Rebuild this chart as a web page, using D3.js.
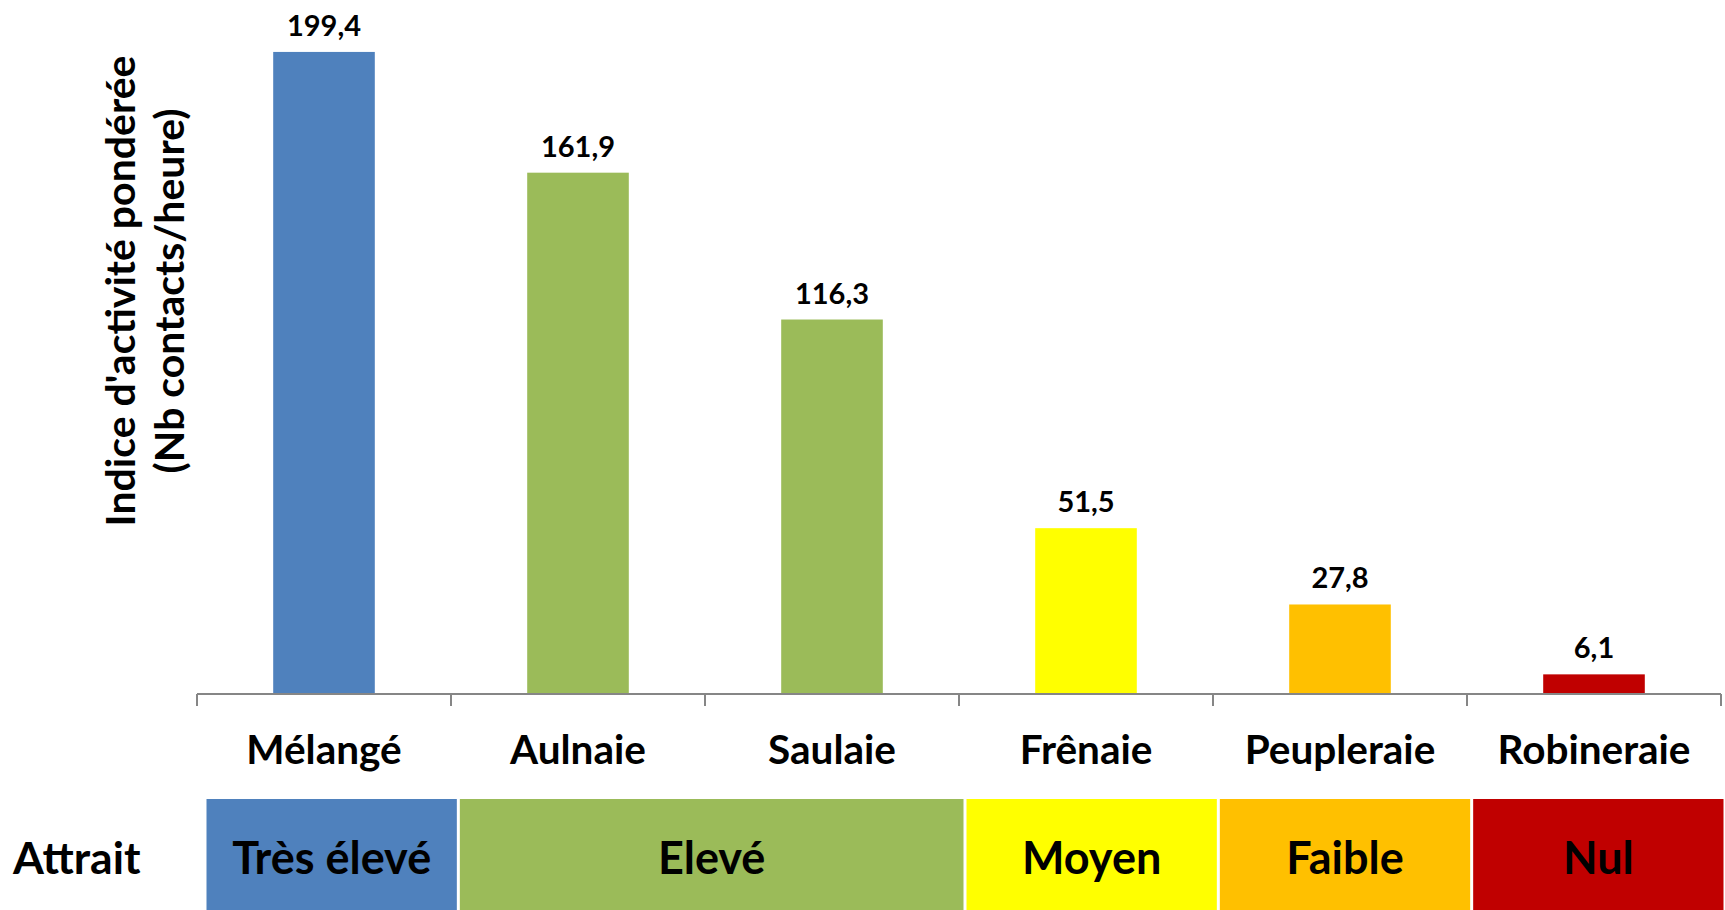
<!DOCTYPE html>
<html>
<head>
<meta charset="utf-8">
<script src="https://cdn.jsdelivr.net/npm/d3@7"></script>
<style>
  body { margin: 0; background: #fff; }
  text { font-family: Lato, "Open Sans", sans-serif; font-weight: bold; fill: #000; }
</style>
</head>
<body>
<script>
// Chart data
const categories = ["Mélangé", "Aulnaie", "Saulaie", "Frênaie", "Peupleraie", "Robineraie"];
const values = [199.4, 161.9, 116.3, 51.5, 27.8, 6.1];
const barColors = ["#4f81bd", "#9bbb59", "#9bbb59", "#ffff00", "#ffc000", "#c00000"];

// Attrait classes (span = number of categories covered)
const attraitLabels = ["Très élevé", "Elevé", "Moyen", "Faible", "Nul"];
const attraitSpan = [1, 2, 1, 1, 1];
const attraitColors = ["#4f81bd", "#9bbb59", "#ffff00", "#ffc000", "#c00000"];

const width = 1725,
  height = 910,
  plot = { left: 197, right: 1721, top: 50, bottom: 694 };

const svg = d3.select("body").append("svg")
  .attr("width", width)
  .attr("height", height);

const x = d3.scaleBand().domain(categories).range([plot.left, plot.right]);
const y = d3.scaleLinear().domain([0, 200]).range([plot.bottom, plot.top]);
const barW = x.bandwidth() / 2.5;

// Bars
svg.append("g")
  .selectAll("rect")
  .data(values)
  .join("rect")
  .attr("x", (d, i) => x(categories[i]) + (x.bandwidth() - barW) / 2)
  .attr("y", d => y(d))
  .attr("width", barW)
  .attr("height", d => y(0) - y(d))
  .style("fill", (d, i) => barColors[i]);

// Value labels
svg.append("g")
  .selectAll("text")
  .data(values)
  .join("text")
  .attr("x", (d, i) => x(categories[i]) + x.bandwidth() / 2)
  .attr("y", d => y(d) - 16)
  .attr("text-anchor", "middle")
  .style("font-size", "29px")
  .text(d => d3.format(".1f")(d).replace(".", ","));

// Category axis, ticks between bands
const axis = svg.append("g").attr("transform", `translate(0,${plot.bottom})`);
axis.append("line")
  .attr("x1", plot.left)
  .attr("x2", plot.right)
  .style("stroke", "#868686")
  .style("stroke-width", 2);
axis.selectAll(".tick")
  .data(categories.map(c => x(c)).concat([plot.right]))
  .join("line")
  .attr("class", "tick")
  .attr("x1", d => d)
  .attr("x2", d => d)
  .attr("y1", 0)
  .attr("y2", 12)
  .style("stroke", "#868686")
  .style("stroke-width", 2);
axis.selectAll(".cat")
  .data(categories)
  .join("text")
  .attr("class", "cat")
  .attr("x", d => x(d) + x.bandwidth() / 2)
  .attr("y", 56)
  .attr("dy", "0.35em")
  .attr("text-anchor", "middle")
  .style("font-size", "40.5px")
  .text(d => d);

// Y axis title
const yTitle = svg.append("text")
  .attr("transform", "rotate(-90)")
  .attr("text-anchor", "middle")
  .style("font-size", "41px");
yTitle.append("tspan").attr("x", -291).attr("y", 121).attr("dy", "0.35em").text("Indice d'activité pondérée");
yTitle.append("tspan").attr("x", -291).attr("y", 170).attr("dy", "0.35em").text("(Nb contacts/heure)");

// Attrait band
const xb = d3.scaleBand().domain(categories).range([205, 1725]);
let start = 0;
const boxes = attraitLabels.map((label, i) => {
  const b = { label, color: attraitColors[i], x0: xb(categories[start]) };
  start += attraitSpan[i];
  b.x1 = start < categories.length ? xb(categories[start]) : xb.range()[1];
  return b;
});

const band = svg.append("g");
band.selectAll("rect")
  .data(boxes)
  .join("rect")
  .attr("x", d => d.x0 + 1.5)
  .attr("y", 799)
  .attr("width", d => d.x1 - d.x0 - 3)
  .attr("height", 120)
  .style("fill", d => d.color);
band.selectAll("text")
  .data(boxes)
  .join("text")
  .attr("x", d => (d.x0 + d.x1) / 2)
  .attr("y", 858)
  .attr("dy", "0.35em")
  .attr("text-anchor", "middle")
  .style("font-size", "45px")
  .text(d => d.label);

svg.append("text")
  .attr("x", 13)
  .attr("y", 858)
  .attr("dy", "0.35em")
  .style("font-size", "44.5px")
  .text("Attrait");
</script>
</body>
</html>
